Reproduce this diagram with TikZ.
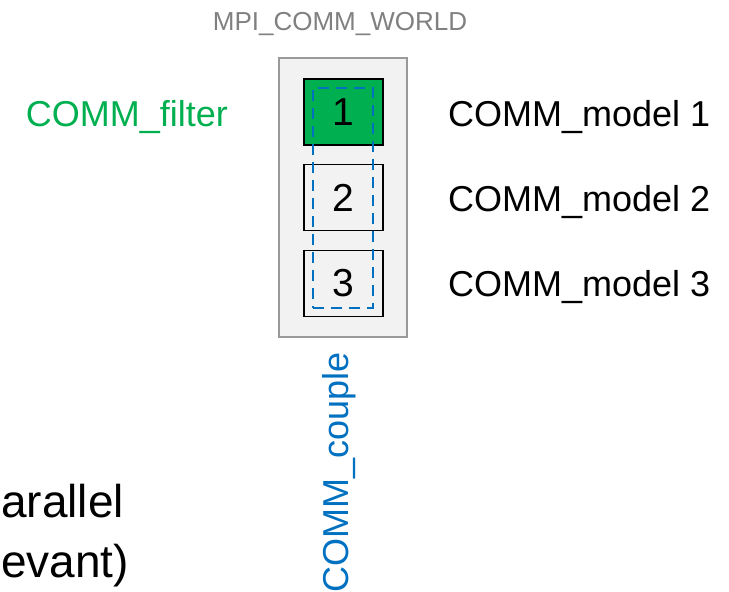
\documentclass[tikz,border=0pt]{standalone}
\usepackage{fontspec}
\setmainfont{Liberation Sans}
\usetikzlibrary{positioning}

\definecolor{filtergreen}{RGB}{0,176,80}
\definecolor{coupleblue}{RGB}{0,112,192}
\definecolor{worldgray}{RGB}{128,128,128}

\begin{document}
\begin{tikzpicture}[x=1pt,y=-1pt,
  world/.style={draw=worldgray!80,line width=2pt,fill=black!5,minimum width=128pt,minimum height=279pt,inner sep=0pt},
  rank/.style={draw=black,line width=1.6pt,minimum width=79pt,minimum height=66pt,inner sep=0pt,font=\fontsize{39}{42}\selectfont},
  couple/.style={draw=coupleblue,line width=2.8pt,dash pattern=on 11pt off 7pt,minimum width=60pt,minimum height=220pt,inner sep=0pt},
  label/.style={anchor=base west,inner sep=0pt,font=\fontsize{36}{40}\selectfont},
  cuttext/.style={anchor=base west,inner sep=0pt,font=\fontsize{46}{50}\selectfont}]
\useasboundingbox (0,0) rectangle (729,592);

\node(world)[world] at (343,197.5) {};
\node(title)[inner sep=0pt,text=worldgray,font=\fontsize{26}{30}\selectfont] at (340,24) {MPI\_COMM\_WORLD};

\node(p1)[rank,fill=filtergreen] at (343.5,112) {1};
\node(p2)[rank] at (343.5,197.5) {2};
\node(p3)[rank] at (343.5,283.5) {3};

\node(couplebox)[couple] at (343,198) {};

\node(filter)[inner sep=0pt,anchor=base east,text=filtergreen,font=\fontsize{36}{40}\selectfont] at (228,126) {COMM\_filter};
\node(m1)[label] at (448,126) {COMM\_model 1};
\node(m2)[label] at (448,211) {COMM\_model 2};
\node(m3)[label] at (448,296) {COMM\_model 3};

\node(couplename)[inner sep=0pt,anchor=base west,rotate=90,text=coupleblue,font=\fontsize{36}{40}\selectfont] at (348,593) {COMM\_couple};

\node(par)[cuttext] at (1,517) {arallel};
\node(rel)[cuttext] at (1,577) {evant)};
\end{tikzpicture}
\end{document}
